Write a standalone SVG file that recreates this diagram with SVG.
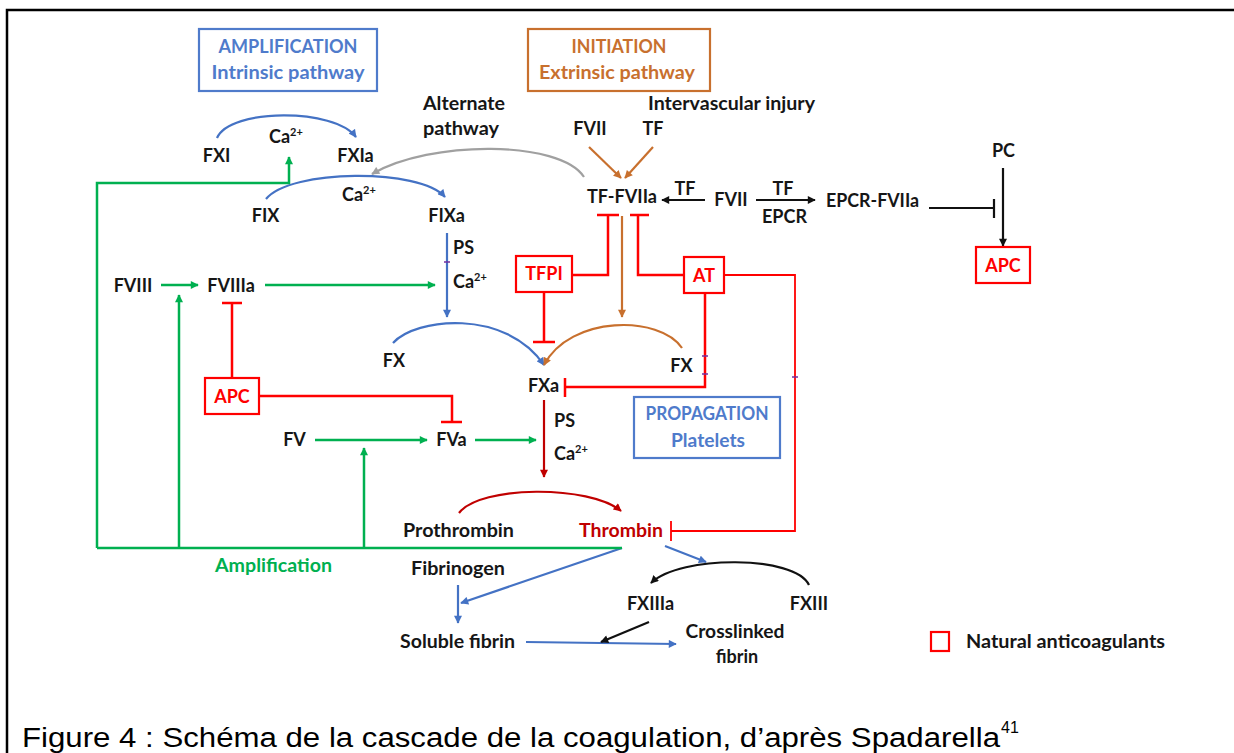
<svg xmlns="http://www.w3.org/2000/svg" width="1234" height="753" viewBox="0 0 1234 753">
<defs>
<marker id="aBlue" viewBox="0 0 10 10" refX="9" refY="5" markerWidth="9" markerHeight="8" markerUnits="userSpaceOnUse" orient="auto"><path d="M0,0 L10,5 L0,10 z" fill="#4472C4"/></marker>
<marker id="aGreen" viewBox="0 0 10 10" refX="9" refY="5" markerWidth="9" markerHeight="8" markerUnits="userSpaceOnUse" orient="auto"><path d="M0,0 L10,5 L0,10 z" fill="#00B050"/></marker>
<marker id="aOrange" viewBox="0 0 10 10" refX="9" refY="5" markerWidth="9" markerHeight="8" markerUnits="userSpaceOnUse" orient="auto"><path d="M0,0 L10,5 L0,10 z" fill="#C8702E"/></marker>
<marker id="aBlack" viewBox="0 0 10 10" refX="9" refY="5" markerWidth="9" markerHeight="8" markerUnits="userSpaceOnUse" orient="auto"><path d="M0,0 L10,5 L0,10 z" fill="#111"/></marker>
<marker id="aGray" viewBox="0 0 10 10" refX="9" refY="5" markerWidth="9" markerHeight="8" markerUnits="userSpaceOnUse" orient="auto"><path d="M0,0 L10,5 L0,10 z" fill="#A0A0A0"/></marker>
<marker id="aDark" viewBox="0 0 10 10" refX="9" refY="5" markerWidth="9" markerHeight="8" markerUnits="userSpaceOnUse" orient="auto"><path d="M0,0 L10,5 L0,10 z" fill="#C00000"/></marker>
</defs>
<style>
text{font-family:Lato,"Liberation Sans",sans-serif;font-size:18px;font-weight:700;fill:#161616}
.m{text-anchor:middle}
.red{fill:#FF0000}
.dred{fill:#C00000}
.grn{fill:#00B050}
.blu{fill:#4F7BCB}
.org{fill:#C8702E}
.sup{font-size:11px}
.cap{font-family:"Liberation Sans",Arial,sans-serif;font-weight:400;font-size:27px;fill:#000}
.c{fill:none;stroke-width:2.2;stroke-linecap:butt;stroke-linejoin:miter}
.b{stroke:#4472C4}
.g{stroke:#00B050;stroke-width:2.5}
.o{stroke:#C8702E}
.k{stroke:#111}
.gy{stroke:#A0A0A0}
.d{stroke:#C00000}
.r{stroke:#FF0000;stroke-width:2.5}
.p{stroke:#7030A0;stroke-width:1.5}
.box{fill:#fff;stroke-width:2.2}
</style>
<rect width="1234" height="753" fill="#fff"/>
<path d="M7,753 L7,10 L1234,10" fill="none" stroke="#000" stroke-width="2.5"/>

<g id="connectors">
<!-- blue -->
<path class="c b" d="M217,138 C230,108 335,108 356,137" marker-end="url(#aBlue)"/>
<path class="c b" d="M266,199 C290,169 420,168 445,197" marker-end="url(#aBlue)"/>
<path class="c b" d="M447,233 L447,317" marker-end="url(#aBlue)"/>
<path class="c b" d="M393,343 C415,318 505,308 544,365" marker-end="url(#aBlue)"/>
<path class="c b" d="M622,548 L461,603" marker-end="url(#aBlue)"/>
<path class="c b" d="M458,585 L458,623" marker-end="url(#aBlue)"/>
<path class="c b" d="M526,642 L676,644" marker-end="url(#aBlue)"/>
<path class="c b" d="M665,546 L706,562" marker-end="url(#aBlue)"/>
<!-- green -->
<path class="c g" d="M97,548 L97,183 L289,183 L289,157" marker-end="url(#aGreen)"/>
<path class="c g" d="M97,548 L622,548"/>
<path class="c g" d="M179,548 L179,295" marker-end="url(#aGreen)"/>
<path class="c g" d="M364,548 L364,448" marker-end="url(#aGreen)"/>
<path class="c g" d="M161,285 L198,285" marker-end="url(#aGreen)"/>
<path class="c g" d="M265,285 L435,285" marker-end="url(#aGreen)"/>
<path class="c g" d="M315,440 L427,440" marker-end="url(#aGreen)"/>
<path class="c g" d="M475,440 L536,440" marker-end="url(#aGreen)"/>
<!-- orange -->
<path class="c o" d="M589,147 L621,178" marker-end="url(#aOrange)"/>
<path class="c o" d="M653,147 L625,178" marker-end="url(#aOrange)"/>
<path class="c o" d="M622,216 L622,317" marker-end="url(#aOrange)"/>
<path class="c o" d="M682,348 C660,315 570,315 544,365" marker-end="url(#aOrange)"/>
<!-- gray -->
<path class="c gy" d="M584,177 C560,140 430,140 372,174" marker-end="url(#aGray)"/>
<!-- black -->
<path class="c k" d="M705,200 L662,200" marker-end="url(#aBlack)"/>
<path class="c k" d="M756,200 L815,200" marker-end="url(#aBlack)"/>
<path class="c k" d="M929,208 L994,208 M994,199 L994,218"/>
<path class="c k" d="M1003,168 L1003,246" marker-end="url(#aBlack)"/>
<path class="c k" d="M809,585 C795,555 680,555 651,583" marker-end="url(#aBlack)"/>
<path class="c k" d="M649,622 L601,642" marker-end="url(#aBlack)"/>
<!-- dark red -->
<path class="c d" d="M544,400 L544,477" marker-end="url(#aDark)"/>
<path class="c d" d="M459,513 C480,485 590,485 621,511" marker-end="url(#aDark)"/>
<!-- red inhibitions -->
<path class="c r" d="M572,275 L608,275 L608,215 M597,215 L619,215"/>
<path class="c r" d="M684,275 L638,275 L638,215 M630,215 L649,215"/>
<path class="c r" d="M544,292 L544,342 M533,342 L555,342"/>
<path class="c r" d="M705,293 L705,387 L565,387 M565,378 L565,397"/>
<path class="c r" d="M724,275 L795,275 L795,531 L671,531 M671,521 L671,541" style="stroke-width:1.8"/>
<path class="c r" d="M232,378 L232,303 M222,303 L242,303"/>
<path class="c r" d="M259,396 L452,396 L452,422 M441,422 L462,422"/>
<!-- small ticks -->
<path class="c p" d="M444,262 L450,262 M702,356 L708,356 M702,374 L708,374 M792,377 L798,377"/>
</g>

<g id="amplification-box"><rect class="box" x="199" y="29" width="178" height="62" stroke="#4F7BCB"/><text class="m blu" x="288" y="53" textLength="139" lengthAdjust="spacingAndGlyphs">AMPLIFICATION</text><text class="m blu" x="288" y="79" textLength="153" lengthAdjust="spacingAndGlyphs">Intrinsic pathway</text></g>
<g id="initiation-box"><rect class="box" x="528" y="29" width="182" height="62" stroke="#C8702E"/><text class="m org" x="619" y="53" textLength="95" lengthAdjust="spacingAndGlyphs">INITIATION</text><text class="m org" x="617" y="79" textLength="156" lengthAdjust="spacingAndGlyphs">Extrinsic pathway</text></g>
<g id="propagation-box"><rect class="box" x="634" y="397" width="146" height="61" stroke="#4F7BCB"/><text class="m blu" x="707" y="420" textLength="123" lengthAdjust="spacingAndGlyphs">PROPAGATION</text><text class="m blu" x="708" y="447" textLength="74" lengthAdjust="spacingAndGlyphs">Platelets</text></g>

<g id="FXI"><text class="m" x="216.5" y="162">FXI</text></g>
<g id="FXIa"><text class="m" x="355.5" y="162">FXIa</text></g>
<g id="ca1"><text x="269" y="143">Ca<tspan class="sup" dy="-7">2+</tspan></text></g>
<g id="FIX"><text class="m" x="265.5" y="222">FIX</text></g>
<g id="FIXa"><text class="m" x="446.5" y="222">FIXa</text></g>
<g id="ca2"><text x="342" y="201">Ca<tspan class="sup" dy="-7">2+</tspan></text></g>
<g id="alternate"><text x="423" y="110" textLength="82" lengthAdjust="spacingAndGlyphs">Alternate</text><text x="423" y="135" textLength="76" lengthAdjust="spacingAndGlyphs">pathway</text></g>
<g id="injury"><text x="648" y="110" textLength="167" lengthAdjust="spacingAndGlyphs">Intervascular injury</text></g>
<g id="FVII-top"><text class="m" x="590" y="135">FVII</text></g>
<g id="TF-top"><text class="m" x="653" y="135">TF</text></g>
<g id="TF-FVIIa"><text class="m" x="622" y="203" textLength="70" lengthAdjust="spacingAndGlyphs">TF-FVIIa</text></g>
<g id="tf-label1"><text class="m" x="685" y="195">TF</text></g>
<g id="FVII"><text class="m" x="731" y="206">FVII</text></g>
<g id="tf-label2"><text class="m" x="783" y="195">TF</text><text class="m" x="784.5" y="223">EPCR</text></g>
<g id="EPCR-FVIIa"><text class="m" x="872.5" y="207" textLength="93" lengthAdjust="spacingAndGlyphs">EPCR-FVIIa</text></g>
<g id="PC"><text class="m" x="1003.5" y="157">PC</text></g>
<g id="APC-right"><rect class="box" x="976" y="247" width="54" height="36" stroke="#FF0000"/><text class="m red" x="1003" y="272">APC</text></g>
<g id="TFPI"><rect class="box" x="516" y="256" width="56" height="36" stroke="#FF0000"/><text class="m red" x="544" y="280">TFPI</text></g>
<g id="AT"><rect class="box" x="684" y="257" width="40" height="36" stroke="#FF0000"/><text class="m red" x="704" y="282">AT</text></g>
<g id="FVIII"><text class="m" x="133" y="292">FVIII</text></g>
<g id="FVIIIa"><text class="m" x="231" y="292">FVIIIa</text></g>
<g id="ps1"><text x="453" y="254">PS</text><text x="453" y="288">Ca<tspan class="sup" dy="-7">2+</tspan></text></g>
<g id="APC-left"><rect class="box" x="205" y="378" width="54" height="36" stroke="#FF0000"/><text class="m red" x="232" y="403">APC</text></g>
<g id="FX-left"><text class="m" x="394" y="367">FX</text></g>
<g id="FX-right"><text class="m" x="681.5" y="372">FX</text></g>
<g id="FXa"><text class="m" x="543.5" y="392">FXa</text></g>
<g id="FV"><text class="m" x="294.5" y="446">FV</text></g>
<g id="FVa"><text class="m" x="451.5" y="446">FVa</text></g>
<g id="ps2"><text x="554" y="427">PS</text><text x="554" y="460">Ca<tspan class="sup" dy="-7">2+</tspan></text></g>
<g id="Prothrombin"><text class="m" x="458.5" y="537" textLength="111" lengthAdjust="spacingAndGlyphs">Prothrombin</text></g>
<g id="Thrombin"><text class="m dred" x="621" y="537" textLength="84" lengthAdjust="spacingAndGlyphs">Thrombin</text></g>
<g id="amplification-label"><text class="m grn" x="273.5" y="572" textLength="117" lengthAdjust="spacingAndGlyphs">Amplification</text></g>
<g id="Fibrinogen"><text class="m" x="458" y="575" textLength="94" lengthAdjust="spacingAndGlyphs">Fibrinogen</text></g>
<g id="FXIIIa"><text class="m" x="650.5" y="610">FXIIIa</text></g>
<g id="FXIII"><text class="m" x="809" y="610">FXIII</text></g>
<g id="soluble-fibrin"><text class="m" x="457.5" y="648" textLength="115" lengthAdjust="spacingAndGlyphs">Soluble fibrin</text></g>
<g id="crosslinked-fibrin"><text class="m" x="735" y="638" textLength="99" lengthAdjust="spacingAndGlyphs">Crosslinked</text><text class="m" x="737" y="663">fibrin</text></g>
<g id="legend"><rect x="931" y="632" width="18" height="19" fill="none" stroke="#FF0000" stroke-width="2.2"/><text x="966" y="648" textLength="199" lengthAdjust="spacingAndGlyphs">Natural anticoagulants</text></g>

<text class="cap" x="22" y="747" textLength="978" lengthAdjust="spacingAndGlyphs">Figure 4 : Schéma de la cascade de la coagulation, d’après Spadarella</text>
<text class="cap" x="1001" y="733" style="font-size:16px">41</text>
</svg>
